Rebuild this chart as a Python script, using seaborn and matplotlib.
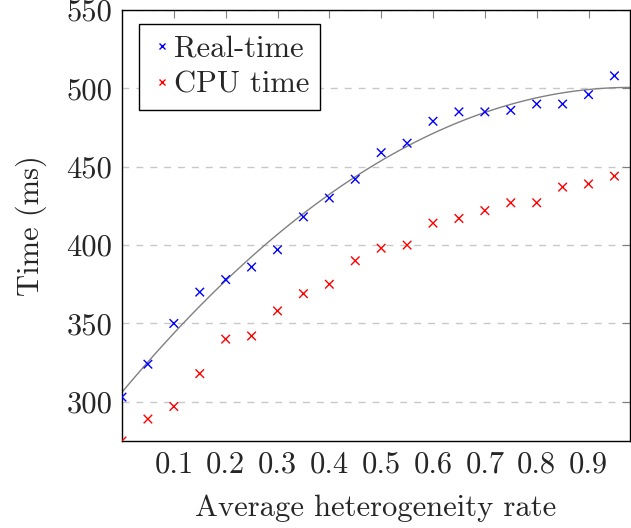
import numpy as np
import pandas as pd
import matplotlib
matplotlib.use("Agg")
import matplotlib.pyplot as plt
import seaborn as sns

# ── Data ─────────────────────────────────────────────────────────────────────
rate = [0.00, 0.05, 0.10, 0.15, 0.20, 0.25, 0.30, 0.35, 0.40, 0.45,
        0.50, 0.55, 0.60, 0.65, 0.70, 0.75, 0.80, 0.85, 0.90, 0.95]
real_time = [303, 324, 350, 370, 378, 386, 397, 418, 430, 442,
             459, 465, 479, 485, 485, 486, 490, 490, 496, 508]
cpu_time = [275, 289, 297, 318, 340, 342, 358, 369, 375, 390,
            398, 400, 414, 417, 422, 427, 427, 437, 439, 444]

x_ticks = [0.1, 0.2, 0.3, 0.4, 0.5, 0.6, 0.7, 0.8, 0.9]
y_ticks = [300, 350, 400, 450, 500, 550]

df = pd.DataFrame({
    "rate": rate * 2,
    "time": real_time + cpu_time,
    "series": ["Real-time"] * len(rate) + ["CPU time"] * len(rate),
})

# ── Style ────────────────────────────────────────────────────────────────────
sns.set_style("white")
plt.rcParams["font.family"] = ["cmr10", "DejaVu Serif"]
plt.rcParams["mathtext.fontset"] = "cm"
plt.rcParams["axes.formatter.use_mathtext"] = True
FS = 22

fig = plt.figure(figsize=(6.31, 5.28), dpi=100)
ax = fig.add_axes([122 / 631, 87 / 528, 508 / 631, 431 / 528])
ax.set_xlim(0, 0.98)
ax.set_ylim(275, 550)

# quadratic fit through the real-time points
sns.regplot(data=df[df["series"] == "Real-time"], x="rate", y="time",
            order=2, ci=None, scatter=False, truncate=False,
            line_kws={"color": "#808080", "lw": 1.0}, ax=ax)

sns.scatterplot(data=df, x="rate", y="time", hue="series",
                palette={"Real-time": "blue", "CPU time": "red"},
                marker="x", s=38, linewidth=1.0, ax=ax, zorder=3)

ax.set_xlim(0, 0.98)
ax.set_ylim(275, 550)
ax.set_xticks(x_ticks)
ax.set_yticks(y_ticks)
ax.set_xticklabels([f"{v:.1f}" for v in x_ticks])
ax.set_yticklabels([str(v) for v in y_ticks])
ax.tick_params(direction="in", length=6, width=0.8, color="#808080",
               labelsize=FS, top=True, right=True, pad=7)
ax.yaxis.grid(True, linestyle=(0, (5, 5)), color="#c8c8c8", lw=1.0)
ax.set_axisbelow(True)
for sp in ax.spines.values():
    sp.set_color("black")
    sp.set_linewidth(1.0)

ax.set_xlabel("Average heterogeneity rate", fontsize=FS, labelpad=12)
ax.set_ylabel("Time (ms)", fontsize=FS, labelpad=14)

leg = ax.legend(loc="upper left", bbox_to_anchor=(0.033, 0.967), fontsize=FS,
                frameon=True, fancybox=False, edgecolor="black",
                handletextpad=0.0, borderpad=0.35, labelspacing=0.3,
                handlelength=0.8, markerscale=0.6, borderaxespad=0)
leg.get_frame().set_linewidth(1.0)
leg.get_frame().set_alpha(1)

fig.savefig("out.png", dpi=100)
